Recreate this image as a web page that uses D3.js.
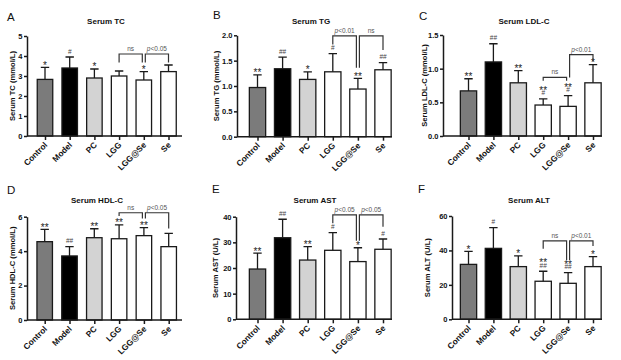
<!DOCTYPE html>
<html><head><meta charset="utf-8">
<script src="https://cdn.jsdelivr.net/npm/d3@7"></script>
<style>body{margin:0;background:#fff}svg{display:block}text{font-family:"Liberation Sans",Arial,sans-serif}</style>
</head><body>
<svg id="c" width="621" height="360"></svg>
<script>
// ---------- data ----------
const groups = ["Control", "Model", "PC", "LGG", "LGG@Se", "Se"];
const fillColors = ["#7b7b7b", "#000000", "#d3d3d3", "#ffffff", "#ffffff", "#ffffff"];

const tcMean = [2.83, 3.40, 2.90, 3.00, 2.80, 3.22];
const tcSD   = [0.60, 0.55, 0.45, 0.25, 0.42, 0.33];
const tcTicks = [0, 1, 2, 3, 4, 5];
const tcMarks = ["*", "#", "*", "", "*", ""];
const tcBrackets = [[3, 4, "ns", 4.1, 3.68, 3.68], [4, 5, "p<0.05", 4.1, 3.68, 3.68]];

const tgMean = [0.97, 1.34, 1.13, 1.28, 0.94, 1.32];
const tgSD   = [0.25, 0.23, 0.15, 0.36, 0.21, 0.14];
const tgTicks = [0, 0.5, 1.0, 1.5, 2.0];
const tgMarks = ["**", "##", "*", "#", "**", "##"];
const tgBrackets = [[3, 4, "p<0.01", 1.99, 1.82, 1.36], [4, 5, "ns", 1.99, 1.36, 1.71]];

const ldlMean = [0.67, 1.10, 0.79, 0.46, 0.44, 0.79];
const ldlSD   = [0.18, 0.27, 0.18, 0.09, 0.16, 0.27];
const ldlTicks = [0, 0.5, 1.0, 1.5];
const ldlMarks = ["**", "##", "**", "**\n#", "**\n#", "*"];
const ldlBrackets = [[3, 4, "ns", 0.87, 0.82, 0.82], [4, 5, "p<0.01", 1.21, 0.87, 1.11]];

const hdlMean = [4.55, 3.72, 4.78, 4.72, 4.90, 4.26];
const hdlSD   = [0.71, 0.54, 0.52, 0.80, 0.46, 0.77];
const hdlTicks = [0, 2, 4, 6];
const hdlMarks = ["**", "##", "**", "**", "**", ""];
const hdlBrackets = [[3, 4, "ns", 6.23, 6.04, 5.9], [4, 5, "p<0.05", 6.23, 5.9, 5.32]];

const astMean = [19.6, 31.8, 23.1, 26.9, 22.5, 27.3];
const astSD   = [6.2, 7.2, 5.2, 6.9, 5.4, 4.0];
const astTicks = [0, 10, 20, 30, 40];
const astMarks = ["**", "##", "**", "#", "*", "#"];
const astBrackets = [[3, 4, "p<0.05", 40.7, 37.4, 30.6], [4, 5, "p<0.05", 40.7, 30.6, 36.1]];

const altMean = [31.9, 41.2, 30.6, 22.1, 20.9, 30.6];
const altSD   = [7.6, 12.0, 6.2, 5.8, 6.2, 5.8];
const altTicks = [0, 20, 40, 60];
const altMarks = ["*", "#", "*", "**\n##", "**\n##", "*"];
const altBrackets = [[3, 4, "ns", 45.5, 41.0, 34.4], [4, 5, "p<0.01", 45.5, 34.4, 42.6]];

// ---------- panels (layout kept separate from data) ----------
const panels = [
  {letter: "A", title: "Serum TC", yLabel: "Serum TC (mmol/L)", mean: tcMean, sd: tcSD, ticks: tcTicks, fmt: d3.format("d"), marks: tcMarks, brackets: tcBrackets,
   L: {lx: 7, ly: 21, tx: 106, ty: 24, labX: 12, axisX: 27, axisEnd: 182, c0: 45, c1: 168.5, bw: 15.5, yMax: 5, yTop: 36, yBottom: 136}},
  {letter: "B", title: "Serum TG", yLabel: "Serum TG (mmol/L)", mean: tgMean, sd: tgSD, ticks: tgTicks, fmt: d3.format(".1f"), marks: tgMarks, brackets: tgBrackets,
   L: {lx: 213, ly: 19, tx: 311, ty: 24, labX: 216, axisX: 237, axisEnd: 392, c0: 257.5, c1: 383, bw: 16.3, yMax: 2, yTop: 35.3, yBottom: 136.7}},
  {letter: "C", title: "Serum LDL-C", yLabel: "Serum LDL-C (mmol/L)", mean: ldlMean, sd: ldlSD, ticks: ldlTicks, fmt: d3.format(".1f"), marks: ldlMarks, brackets: ldlBrackets,
   L: {lx: 419, ly: 20, tx: 524, ty: 24, labX: 424, axisX: 443, axisEnd: 602, c0: 468.5, c1: 593, bw: 16.3, yMax: 1.5, yTop: 35, yBottom: 136}},
  {letter: "D", title: "Serum HDL-C", yLabel: "Serum HDL-C (mmol/L)", mean: hdlMean, sd: hdlSD, ticks: hdlTicks, fmt: d3.format("d"), marks: hdlMarks, brackets: hdlBrackets,
   L: {lx: 7, ly: 194, tx: 97, ty: 203, labX: 12, axisX: 27, axisEnd: 182, c0: 44.7, c1: 168.7, bw: 15.5, yMax: 6, yTop: 216.7, yBottom: 320}},
  {letter: "E", title: "Serum AST", yLabel: "Serum AST (U/L)", mean: astMean, sd: astSD, ticks: astTicks, fmt: d3.format("d"), marks: astMarks, brackets: astBrackets,
   L: {lx: 212, ly: 193, tx: 315, ty: 203, labX: 215, axisX: 236, axisEnd: 392, c0: 257.5, c1: 383, bw: 16.3, yMax: 40, yTop: 216.7, yBottom: 319.3}},
  {letter: "F", title: "Serum ALT", yLabel: "Serum ALT (U/L)", mean: altMean, sd: altSD, ticks: altTicks, fmt: d3.format("d"), marks: altMarks, brackets: altBrackets,
   L: {lx: 418, ly: 193, tx: 529, ty: 203, labX: 427, axisX: 452, axisEnd: 602, c0: 468.5, c1: 593, bw: 16.3, yMax: 60, yTop: 216, yBottom: 319.3}}
];

const svg = d3.select("#c");
const ink = "#1a1a1a";
const FONT = '"Liberation Sans",Arial,sans-serif';

panels.forEach(p => {
  const L = p.L;
  const g = svg.append("g");
  const x = d3.scalePoint().domain(groups).range([L.c0, L.c1]);
  const y = d3.scaleLinear().domain([0, L.yMax]).range([L.yBottom, L.yTop]);

  // letter + title
  g.append("text").attr("x", L.lx).attr("y", L.ly).attr("font-size", 11.5).attr("fill", "#111").text(p.letter);
  g.append("text").attr("x", L.tx).attr("y", L.ty).attr("text-anchor", "middle")
    .attr("font-size", 8).attr("font-weight", "bold").attr("fill", "#111").text(p.title);

  // bars
  g.selectAll("rect.bar").data(groups).join("rect").attr("class", "bar")
    .attr("x", d => x(d) - L.bw / 2)
    .attr("y", (d, i) => y(p.mean[i]))
    .attr("width", L.bw)
    .attr("height", (d, i) => y(0) - y(p.mean[i]))
    .attr("fill", (d, i) => fillColors[i])
    .attr("stroke", ink).attr("stroke-width", 1.3);

  // error bars (upper only)
  g.selectAll("path.err").data(groups).join("path").attr("class", "err")
    .attr("d", (d, i) => {
      const cx = x(d), top = y(p.mean[i] + p.sd[i]), base = y(p.mean[i]);
      return `M${cx},${base}V${top}M${cx - 4.2},${top}H${cx + 4.2}`;
    })
    .attr("fill", "none").attr("stroke", ink).attr("stroke-width", 1.3);

  // y axis
  const ya = g.append("g").attr("transform", `translate(${L.axisX},0)`)
    .call(d3.axisLeft(y).tickValues(p.ticks).tickFormat(p.fmt).tickSize(3).tickSizeOuter(0).tickPadding(1.5));
  ya.select(".domain").attr("stroke", ink).attr("stroke-width", 1.5);
  ya.selectAll(".tick line").attr("stroke", ink).attr("stroke-width", 1.5);
  ya.selectAll(".tick text").attr("font-size", 7.5).attr("font-weight", "bold").attr("fill", "#111")
    .attr("font-family", FONT);

  // x axis
  const xa = g.append("g").attr("transform", `translate(0,${L.yBottom})`)
    .call(d3.axisBottom(x).tickSize(4).tickSizeOuter(0));
  xa.select(".domain").remove();
  xa.append("line").attr("x1", L.axisX).attr("x2", L.axisEnd).attr("y1", 0).attr("y2", 0)
    .attr("stroke", ink).attr("stroke-width", 1.5);
  xa.selectAll(".tick line").attr("stroke", ink).attr("stroke-width", 1.5);
  xa.selectAll(".tick text")
    .attr("x", null).attr("y", null).attr("dy", null)
    .attr("transform", "translate(2.5,9.5) rotate(-45)")
    .attr("text-anchor", "end")
    .attr("font-size", 8.3).attr("font-weight", "bold").attr("fill", "#111")
    .attr("font-family", FONT);

  // y label
  g.append("text")
    .attr("transform", `translate(${L.labX},${(L.yTop + L.yBottom) / 2}) rotate(-90)`)
    .attr("text-anchor", "middle").attr("dominant-baseline", "central")
    .attr("font-size", 7.6).attr("font-weight", "bold").attr("fill", "#111")
    .text(p.yLabel);

  // significance marks above error bars (one text element per bar, stacked lines as tspans)
  groups.forEach((gname, i) => {
    if (!p.marks[i]) return;
    const lines = p.marks[i].split("\n");
    let cur = y(p.mean[i] + p.sd[i]) - 3;
    const placed = [];
    for (let k = lines.length - 1; k >= 0; k--) {
      const s = lines[k];
      if (s.includes("*")) {
        placed.unshift({s, y: cur + 4.4, size: 10, fill: "#222"});
        cur -= 4.7;
      } else {
        placed.unshift({s, y: cur - 0.5, size: 6.5, fill: "#444"});
        cur -= 6.4;
      }
    }
    const t = g.append("text").attr("text-anchor", "middle");
    placed.forEach(o => {
      t.append("tspan").attr("x", x(gname)).attr("y", o.y)
        .attr("font-size", o.size).attr("fill", o.fill).text(o.s);
    });
  });

  // comparison brackets
  p.brackets.forEach(b => {
    const [i, j, label, top, legL, legR] = b;
    const sharedL = p.brackets.some(o => o !== b && (o[0] === i || o[1] === i));
    const sharedR = p.brackets.some(o => o !== b && (o[0] === j || o[1] === j));
    const x1 = x(groups[i]) + (sharedL ? 1.5 : 0);
    const x2 = x(groups[j]) - (sharedR ? 1.5 : 0);
    g.append("path")
      .attr("d", `M${x1},${y(legL)}V${y(top)}H${x2}V${y(legR)}`)
      .attr("fill", "none").attr("stroke", "#333").attr("stroke-width", 1.2);
    const t = g.append("text").attr("x", (x1 + x2) / 2).attr("y", y(top) - 3)
      .attr("text-anchor", "middle").attr("font-size", 6.5).attr("fill", "#555");
    if (label.startsWith("p")) {
      t.append("tspan").attr("font-style", "italic").text("p");
      t.append("tspan").text(label.slice(1));
    } else {
      t.text(label);
    }
  });
});
</script>
</body></html>
